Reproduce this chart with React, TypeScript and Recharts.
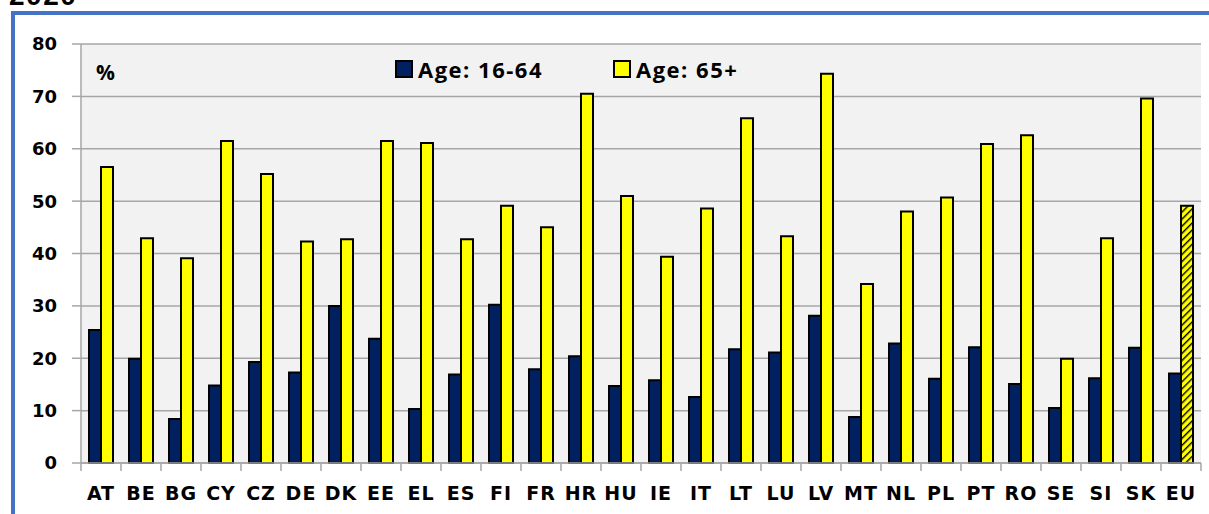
import React from 'react';
import { BarChart, Bar, XAxis, YAxis, CartesianGrid, Cell } from 'recharts';

const countries = ['AT','BE','BG','CY','CZ','DE','DK','EE','EL','ES','FI','FR','HR','HU','IE','IT','LT','LU','LV','MT','NL','PL','PT','RO','SE','SI','SK','EU'];
const age1664 = [25.4,19.9,8.4,14.8,19.3,17.3,30.0,23.7,10.3,16.9,30.2,17.9,20.4,14.7,15.8,12.6,21.7,21.1,28.1,8.8,22.8,16.1,22.1,15.1,10.5,16.2,22.0,17.1];
const age65 = [56.5,42.9,39.1,61.5,55.2,42.3,42.7,61.5,61.1,42.7,49.1,45.0,70.5,51.0,39.4,48.6,65.8,43.3,74.3,34.2,48.0,50.7,60.9,62.6,19.9,42.9,69.6,49.1];
const yTicks = [0,10,20,30,40,50,60,70,80];
const seriesNames = ['Age: 16-64','Age: 65+'];

const data = countries.map((c, i) => ({ country: c, a: age1664[i], b: age65[i] }));

const W = 1209;
const H = 514;
const MARGIN = { top: 44, right: 8, left: 21, bottom: 11 };
const Y_AXIS_W = 60;
const PLOT_W = W - MARGIN.left - Y_AXIS_W - MARGIN.right;
const HALF_BAND = PLOT_W / countries.length / 2;
const GRID = '#A6A6A6';
const NAVY = '#002060';
const YELLOW = '#FFFF00';
const AXIS_FONT = '"DejaVu Sans", Verdana, sans-serif';

const XTick = (props: any) => {
  const { x, y, payload, index } = props;
  const last = index === countries.length - 1;
  return (
    <g>
      <line x1={x - HALF_BAND} x2={x - HALF_BAND} y1={y} y2={y + 8} stroke={GRID} strokeWidth={1.5} />
      {last && <line x1={x + HALF_BAND} x2={x + HALF_BAND} y1={y} y2={y + 8} stroke={GRID} strokeWidth={1.5} />}
      <text x={x} y={y + 37} textAnchor="middle" fontFamily={AXIS_FONT} fontWeight="bold" fontSize={19} fill="#000" letterSpacing={1}>
        {payload.value}
      </text>
    </g>
  );
};

const LegendBox = () => {
  const items = [
    { name: seriesNames[0], color: NAVY },
    { name: seriesNames[1], color: YELLOW },
  ];
  return (
    <div style={{ position: 'absolute', left: 395, top: 56, display: 'flex', alignItems: 'center', fontFamily: '"Open Sans", sans-serif', fontWeight: 700, fontSize: 22, color: '#000', letterSpacing: 1.5, lineHeight: '26px' }}>
      {items.map((it, i) => (
        <div key={it.name} style={{ display: 'flex', alignItems: 'center', marginRight: i === 0 ? 70 : 0 }}>
          <span style={{ display: 'inline-block', width: 14, height: 14, background: it.color, border: '2px solid #000', marginRight: 5 }} />
          <span>{it.name}</span>
        </div>
      ))}
    </div>
  );
};

export default function App() {
  return (
    <div style={{ position: 'absolute', left: 0, top: 0, width: W, height: H, overflow: 'hidden', background: '#fff' }}>
      <svg width={W} height={H} style={{ position: 'absolute', left: 0, top: 0 }}>
        <rect x={11} y={11} width={4} height={H} fill="#4472C4" />
        <rect x={11} y={11} width={W} height={4} fill="#4472C4" />
        <text x={9} y={5} fontFamily='"Liberation Sans", Arial, sans-serif' fontWeight="bold" fontSize={28} letterSpacing={1.5} fill="#000">2020</text>
      </svg>
      <div style={{ position: 'absolute', left: 0, top: 0 }}>
        <BarChart width={W} height={H} data={data} margin={MARGIN} barCategoryGap="20%" barGap={0}>
          <defs>
            <pattern id="euHatch" patternUnits="userSpaceOnUse" width={5} height={5} patternTransform="rotate(45)">
              <rect x={0} y={0} width={5} height={5} fill={YELLOW} />
              <rect x={0} y={0} width={1.4} height={5} fill="#000" />
            </pattern>
          </defs>
          <CartesianGrid vertical={false} fill="#F2F2F2" stroke={GRID} strokeWidth={1.5} />
          <XAxis
            dataKey="country"
            interval={0}
            height={40}
            tickSize={0}
            tickMargin={0}
            tickLine={false}
            axisLine={{ stroke: GRID, strokeWidth: 1.5 }}
            tick={<XTick />}
          />
          <YAxis
            width={Y_AXIS_W}
            domain={[0, 80]}
            ticks={yTicks}
            interval={0}
            tickSize={9}
            tickMargin={15}
            tickLine={{ stroke: GRID, strokeWidth: 1.5 }}
            axisLine={{ stroke: GRID, strokeWidth: 1.5 }}
            tick={{ fontFamily: AXIS_FONT, fontWeight: 'bold', fontSize: 18, fill: '#000' }}
          />
          <Bar dataKey="a" name={seriesNames[0]} fill={NAVY} stroke="#000" strokeWidth={2} isAnimationActive={false} />
          <Bar dataKey="b" name={seriesNames[1]} fill={YELLOW} stroke="#000" strokeWidth={2} isAnimationActive={false}>
            {data.map((d) => (
              <Cell key={d.country} fill={d.country === 'EU' ? 'url(#euHatch)' : YELLOW} />
            ))}
          </Bar>
        </BarChart>
      </div>
      <LegendBox />
      <svg width={W} height={H} style={{ position: 'absolute', left: 0, top: 0, pointerEvents: 'none' }}>
        <text x={96} y={80} fontFamily='"Open Sans", sans-serif' fontWeight="bold" fontSize={21} fill="#000">%</text>
      </svg>
    </div>
  );
}
